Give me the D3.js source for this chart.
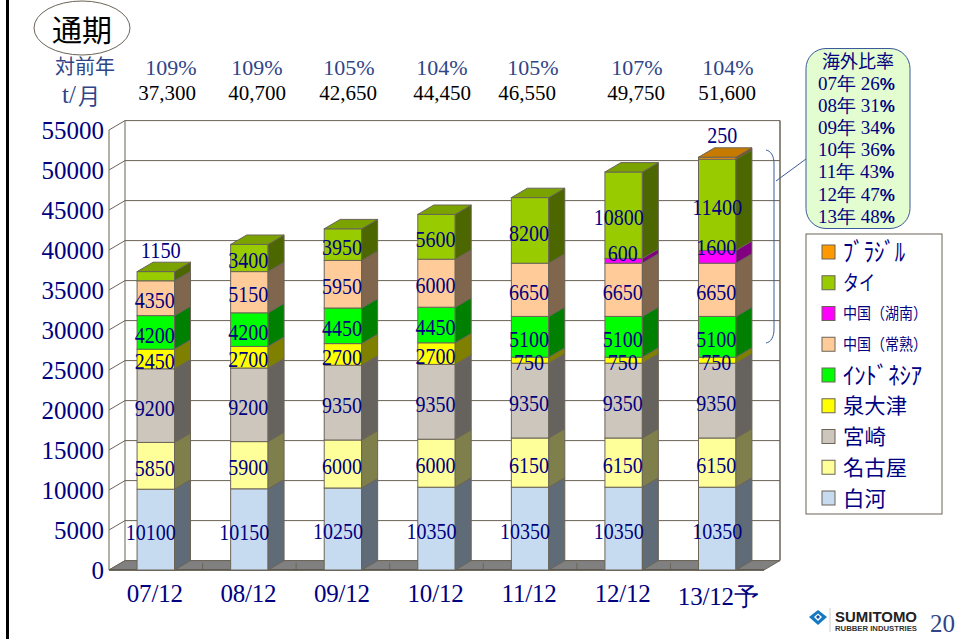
<!DOCTYPE html>
<html lang="ja">
<head>
<meta charset="UTF-8">
<title>通期</title>
<script src="https://cdn.jsdelivr.net/npm/d3@7"></script>
<style>
  html, body { margin: 0; padding: 0; background: #fff; overflow: hidden; }
  svg { display: block; }
  text { font-family: "Liberation Serif", serif; }
  .jp { font-family: "Noto Sans CJK JP", sans-serif; }
  .sans { font-family: "Liberation Sans", sans-serif; }
  .tick text { fill: #000080; font-family: "Liberation Serif", serif; }
  .tick line, .domain { display: none; }
</style>
</head>
<body>
<div id="chart"></div>
<script>
const categories = ["07/12", "08/12", "09/12", "10/12", "11/12", "12/12", "13/12予"];
const yearOnYear = ["109%", "109%", "105%", "104%", "105%", "107%", "104%"];
const monthlyTotals = ["37,300", "40,700", "42,650", "44,450", "46,550", "49,750", "51,600"];
const overseasRatio = ["07年 26", "08年 31", "09年 34", "10年 36", "11年 43", "12年 47", "13年 48"];

// bottom to top of the stack
const plantNames = ["白河", "名古屋", "宮崎", "泉大津", "ｲﾝﾄﾞﾈｼｱ", "中国（常熟）", "中国（湖南）", "タイ", "ﾌﾞﾗｼﾞﾙ"];
const shirakawa = [10100, 10150, 10250, 10350, 10350, 10350, 10350];
const nagoya = [5850, 5900, 6000, 6000, 6150, 6150, 6150];
const miyazaki = [9200, 9200, 9350, 9350, 9350, 9350, 9350];
const izumiotsu = [2450, 2700, 2700, 2700, 750, 750, 750];
const indonesia = [4200, 4200, 4450, 4450, 5100, 5100, 5100];
const changshu = [4350, 5150, 5950, 6000, 6650, 6650, 6650];
const hunan = [0, 0, 0, 0, 0, 600, 1600];
const thailand = [1150, 3400, 3950, 5600, 8200, 10800, 11400];
const brazil = [0, 0, 0, 0, 0, 0, 250];
const series = [shirakawa, nagoya, miyazaki, izumiotsu, indonesia, changshu, hunan, thailand, brazil];

const frontColors = ["#c6dbf0", "#ffff99", "#ccc6bc", "#ffff00", "#00ff00", "#ffcc99", "#ff00ff", "#99cc00", "#ff9900"];
const sideColors = ["#5f6b76", "#7f7f4c", "#66635e", "#7f7f00", "#008000", "#7f664c", "#800080", "#4c6600", "#7f4c00"];
const topColors = ["#9eafc0", "#cccc7a", "#a39e96", "#cccc00", "#00cc00", "#cca37a", "#cc00cc", "#7aa300", "#c67a00"];
const legendWidths = [43, 64, 43, 64, 79, 84, 84, 32, 62];
const legendSizes = [21, 21, 21, 21, 24, 16, 16, 21, 25];

const width = 955, height = 639;
const lineColor = "#6b6457";
const depthX = 16, depthY = 9.4;

const svg = d3.select("#chart").append("svg").attr("width", width).attr("height", height);

const x = d3.scaleBand().domain(categories).range([109, 764]).paddingInner(0.6).paddingOuter(0.3);
const band = d3.scaleBand().domain(categories).range([109, 764]);
const y = d3.scaleLinear().domain([0, 55000]).range([570, 130]);
const yTicks = d3.range(0, 55001, 5000);

// page border on the left
svg.append("rect").attr("x", 6).attr("y", 0).attr("width", 3).attr("height", height).attr("fill", "#000");

// walls, grid
const wall = svg.append("g").attr("fill", "none").attr("stroke", lineColor);
wall.selectAll(".grid").data(yTicks).enter().append("path")
  .attr("d", d => `M109,${y(d)}L${109 + depthX},${y(d) - depthY}H${764 + depthX}`);
wall.append("path").attr("d", `M109,${y(55000)}V${y(0)}M${109 + depthX},${y(55000) - depthY}V${y(0) - depthY}`);
wall.append("path").attr("d", `M${764 + depthX},${y(55000) - depthY}V${y(0) - depthY}`).attr("stroke-width", 1.5);

// floor
svg.append("path")
  .attr("d", `M109,${y(0)}L${109 + depthX},${y(0) - depthY}H${764 + depthX}L764,${y(0)}Z`)
  .attr("fill", "#808080").attr("stroke", lineColor);
svg.append("g").selectAll("line").data(categories.slice(1)).enter().append("line")
  .attr("x1", d => band(d)).attr("x2", d => band(d))
  .attr("y1", y(0)).attr("y2", y(0) - depthY * 0.75)
  .attr("stroke", lineColor);
svg.append("line").attr("x1", 109).attr("x2", 764).attr("y1", y(0)).attr("y2", y(0))
  .attr("stroke", "#5a5448").attr("stroke-width", 1.6);

// stacked 3d bars
const stacked = d3.stack().keys(d3.range(series.length)).value((d, k) => series[k][d])(d3.range(categories.length));
const isTopSegment = (s, c) => series.slice(s + 1).every(v => v[c] === 0);
const bars = svg.append("g").attr("stroke", lineColor).attr("stroke-width", 1);
categories.forEach((cat, c) => {
  const bx = x(cat), bw = x.bandwidth();
  const col = bars.append("g");
  stacked.forEach((layer, s) => {
    if (series[s][c] === 0) return;
    const y0 = y(layer[c][0]), y1 = y(layer[c][1]);
    col.append("rect").attr("x", bx).attr("y", y1).attr("width", bw).attr("height", y0 - y1)
      .attr("fill", frontColors[s]);
    col.append("path")
      .attr("d", `M${bx + bw},${y0}l${depthX},${-depthY}V${y1 - depthY}L${bx + bw},${y1}Z`)
      .attr("fill", sideColors[s]);
    // only the last non empty segment shows its lid
    if (isTopSegment(s, c)) {
      col.append("path")
        .attr("d", `M${bx},${y1}l${depthX},${-depthY}h${bw}l${-depthX},${depthY}Z`)
        .attr("fill", topColors[s]);
    }
  });
});

// value labels on top of every bar
const labels = svg.append("g").attr("fill", "#000080").attr("font-size", 24).attr("text-anchor", "middle");
categories.forEach((cat, c) => {
  const cx = x(cat) + x.bandwidth() / 2;
  stacked.forEach((layer, s) => {
    const v = series[s][c];
    if (v === 0) return;
    const top = y(layer[c][1]);
    let ly = (y(layer[c][0]) + top) / 2 + 2;
    const small = isTopSegment(s, c) && v < 1200;
    if (small) ly = top - 22;
    if (s === 6) ly -= 8 + v / 400;
    const shift = v >= 10000 ? (c === 6 ? 0 : -5) : (small ? 5 : -1);
    const digits = String(v).length;
    labels.append("text").attr("x", cx + shift).attr("y", ly).attr("dy", ".34em")
      .attr("textLength", digits * 10).attr("lengthAdjust", "spacingAndGlyphs").text(v);
  });
});

// axes
const yAxis = d3.axisLeft(y).tickValues(yTicks).tickFormat(d3.format("d")).tickSize(0).tickPadding(5);
svg.append("g").attr("transform", "translate(109,0)").call(yAxis)
  .call(g => g.selectAll("text").attr("font-size", 25));
const xAxis = d3.axisBottom(band).tickSize(0).tickPadding(14);
svg.append("g").attr("transform", `translate(0,${y(0)})`).call(xAxis)
  .call(g => g.selectAll("text").attr("font-size", 25)
    .attr("letter-spacing", "-0.2px")
    .attr("dx", (d, i) => i === 6 ? 1 : -1)
    .attr("transform", (d, i) => i === 6 ? "translate(0,3)" : null));

// header rows
const headerPct = [171, 257, 349, 442, 533, 637, 728];
const headerTotal = [167, 257, 348, 442, 527, 636, 727];
svg.append("g").selectAll("text").data(yearOnYear).enter().append("text")
  .attr("x", (d, i) => headerPct[i]).attr("y", 75).attr("text-anchor", "middle")
  .attr("font-size", 22).attr("fill", "#2f4587").text(d => d);
svg.append("g").selectAll("text").data(monthlyTotals).enter().append("text")
  .attr("x", (d, i) => headerTotal[i]).attr("y", 100).attr("text-anchor", "middle")
  .attr("font-size", 21).attr("fill", "#000").text(d => d);
svg.append("text").attr("class", "jp").attr("x", 85).attr("y", 74).attr("text-anchor", "middle")
  .attr("font-size", 20).attr("fill", "#2f4587").text("対前年");
svg.append("text").attr("x", 62).attr("y", 103).attr("font-size", 25).attr("fill", "#2f4587").text("t/");
svg.append("text").attr("class", "jp").attr("x", 78).attr("y", 104).attr("font-size", 22).attr("fill", "#2f4587").text("月");

// title
svg.append("ellipse").attr("cx", 82).attr("cy", 28).attr("rx", 48).attr("ry", 27)
  .attr("fill", "#fff").attr("stroke", lineColor);
svg.append("text").attr("class", "jp").attr("x", 82).attr("y", 41).attr("text-anchor", "middle")
  .attr("font-size", 30).attr("fill", "#000").text("通期");

// overseas ratio callout and brace
svg.append("path").attr("d", "M766,150C771,151 774,156 774,164V329C774,337 771,342 766,343M776,181L806,159")
  .attr("fill", "none").attr("stroke", "#3a5a9b").attr("stroke-width", 1);
svg.append("rect").attr("x", 806).attr("y", 48.5).attr("width", 104).attr("height", 180).attr("rx", 20)
  .attr("fill", "#e3fcd0").attr("stroke", "#3a5a9b");
svg.append("text").attr("class", "jp").attr("x", 858).attr("y", 68).attr("text-anchor", "middle")
  .attr("font-size", 18).attr("fill", "#000080").text("海外比率");
const ratio = svg.append("g").selectAll("text").data(overseasRatio).enter().append("text")
  .attr("x", 818).attr("y", (d, i) => 89.5 + i * 22.2).attr("font-size", 19).attr("fill", "#000080");
ratio.append("tspan").text(d => d);
ratio.append("tspan").attr("class", "sans").attr("font-weight", 700).attr("font-size", 17).text("%");

// legend, top entry first
const legendY = d3.scalePoint().domain(d3.range(series.length).reverse()).range([252, 498]);
svg.append("rect").attr("x", 806).attr("y", 234).attr("width", 136).attr("height", 280)
  .attr("fill", "#fff").attr("stroke", lineColor);
const legend = svg.append("g").selectAll("g").data(d3.range(series.length)).enter().append("g")
  .attr("transform", s => `translate(822,${legendY(s)})`);
legend.append("rect").attr("x", 0).attr("y", -7).attr("width", 13).attr("height", 14)
  .attr("fill", s => frontColors[s]).attr("stroke", lineColor);
legend.append("text").attr("class", "jp").attr("x", 21).attr("dy", ".36em")
  .attr("font-size", s => legendSizes[s]).attr("fill", "#000080")
  .attr("textLength", s => legendWidths[s]).attr("lengthAdjust", "spacingAndGlyphs")
  .text(s => plantNames[s]);

// logo and page number
const logo = svg.append("g");
logo.append("path").attr("d", "M818,610L827,617L818,625L809,617Z").attr("fill", "#1479c2");
logo.append("path").attr("d", "M818,613.5L822,617L818,621L814,617Z").attr("fill", "#fff");
logo.append("path").attr("d", "M818,615L820,617L818,619L816,617Z").attr("fill", "#0b4ea2");
logo.append("line").attr("x1", 830).attr("x2", 830).attr("y1", 608).attr("y2", 632).attr("stroke", "#ccc");
logo.append("text").attr("class", "sans").attr("x", 835).attr("y", 622).attr("font-weight", 700)
  .attr("font-size", 15).attr("fill", "#222").attr("textLength", 82).attr("lengthAdjust", "spacingAndGlyphs").text("SUMITOMO");
logo.append("text").attr("class", "sans").attr("x", 835).attr("y", 631).attr("font-weight", 700)
  .attr("font-size", 8).attr("fill", "#333").attr("textLength", 82).attr("lengthAdjust", "spacingAndGlyphs").text("RUBBER INDUSTRIES");
svg.append("text").attr("x", 930).attr("y", 632).attr("font-size", 25).attr("fill", "#2f4587").text("20");
</script>
</body>
</html>
